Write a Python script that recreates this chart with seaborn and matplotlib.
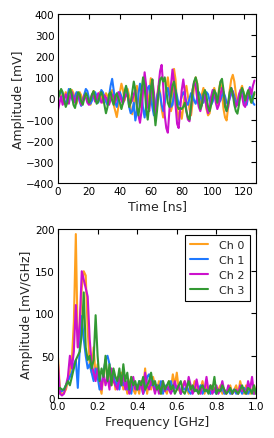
import numpy as np
import pandas as pd
import matplotlib
matplotlib.use("Agg")
import matplotlib.pyplot as plt
import seaborn as sns

channels = ["Ch 0", "Ch 1", "Ch 2", "Ch 3"]
colors = ["#FFA01E", "#1E78FF", "#CC11CC", "#339933"]

time_ns = list(range(128))

ch0_mv = [30, 35, 10, -20, 5, 30, 20, -10, 15, 40, 25, -5, -25, 10, 30, 15,
          -10, 5, 25, 20, -15, -30, 10, 35, 20, -5, 15, 30, 10, -20, 5, 25,
          10, -25, 20, 40, -30, -60, -88, -40, 30, 70, 40, -10, 20, 45, 10, -50,
          -75, -30, 40, 60, 20, -40, -20, 30, 65, 40, -30, 20, 96, 50, -60, -40,
          10, 60, 30, -50, -90, -20, 50, 100, 40, -60, -30, 140, 90, -40, -100, -60,
          -96, -40, 30, 60, 10, -50, -80, -20, 60, 100, 70, 0, -40, 20, 50, 10,
          -50, -80, -70, -20, 30, 50, 20, -30, 40, 77, 30, -50, -90, -104, -40, 40,
          90, 112, 80, 20, -30, 10, 40, 60, 20, -20, 10, 30, 0, -20, 10, 20]

ch1_mv = [10, 25, 40, 20, -10, -30, 5, 45, 30, 0, -20, 10, 30, 20, -15, -35,
          -10, 20, 45, 35, 0, -25, -10, 15, 30, 10, -20, 5, 40, 30, 5, -15,
          -30, 10, 60, 93, 40, -20, -40, 0, 30, 10, -20, 20, 55, 20, -40, -70,
          -60, -20, -104, -60, 20, 70, 30, -50, -90, -30, 50, 60, 10, -40, -80, -40,
          10, 40, 20, -30, -60, -20, 30, 50, 10, -40, -30, 20, 40, 10, -30, -20,
          10, 30, 15, -20, -30, 0, 25, 20, -10, -25, 5, 30, 15, -15, -20, 10,
          30, 20, -10, -30, -15, 10, 25, 5, -20, -10, 15, 30, 10, -20, -25, 0,
          20, 35, 10, -15, -30, -10, 20, 40, 15, -25, -30, 10, 54, 30, -20, -30]

ch2_mv = [-55, -20, 10, -30, -10, 20, 0, -25, 15, 30, 5, -20, 10, 25, -5, -30,
          -10, 15, 5, -20, -30, 0, 20, 10, -15, -5, 25, 10, -20, -10, 15, 5,
          -15, -30, -5, 20, 10, -20, 5, 30, 15, -10, -25, 0, 20, 10, -15, -20,
          -10, 20, 40, -30, -80, -115, -60, 40, 124, 60, -40, -60, 20, 90, 30, -70,
          -40, 60, 130, 159, 60, -80, -140, -162, -60, 60, 137, 80, -30, -120, -140, -50,
          40, 90, 30, -60, -100, -108, -40, 40, 80, 60, 0, -40, -60, -30, 20, 10,
          -40, -70, -50, 10, 40, 30, -20, -50, -30, 20, 50, 30, -20, -60, -40, 10,
          50, 30, -10, -40, -20, 20, 40, 10, -30, -40, -10, 30, 50, 20, 60, 85]

ch3_mv = [0, 20, 45, 30, -10, -40, -20, 25, 45, 15, -30, -45, -10, 30, 20, -15,
          -30, 0, 25, 10, -20, -10, 20, 35, 5, -25, -15, 15, 30, 10, -30, -70,
          -40, 20, 30, -10, -30, 10, 25, 0, -20, -50, -20, 30, 60, 20, -40, -20,
          30, 80, 40, -40, -80, -30, 40, 100, 60, -50, -100, -30, 50, 90, -40, -127,
          -60, 30, 90, 100, 80, 100, 40, -20, -40, 10, 60, 80, 40, -30, -50, -45,
          -50, -40, -20, -60, -90, -100, -40, 40, 80, 100, 70, 0, -50, -30, 20, 40,
          10, -40, -60, -30, 10, 40, 20, -20, 30, 80, 93, 40, -40, -60, -20, 30,
          50, 20, -30, -60, -72, -30, 20, 50, 30, -10, 20, 40, 10, -20, 0, 30]

freq_ghz = [round(i * 0.01, 2) for i in range(101)]

ch0_spec = [48, 8, 5, 6, 10, 20, 30, 45, 90, 194,
            60, 80, 130, 150, 145, 80, 40, 30, 60, 25,
            40, 15, 5, 30, 45, 20, 35, 15, 30, 10,
            25, 15, 30, 10, 20, 5, 15, 25, 10, 5,
            15, 5, 20, 10, 35, 5, 20, 10, 25, 15,
            10, 20, 5, 15, 10, 5, 20, 10, 28, 15,
            30, 10, 5, 15, 20, 10, 5, 15, 10, 20,
            15, 5, 10, 20, 5, 15, 10, 5, 15, 10,
            5, 10, 15, 5, 10, 5, 10, 15, 5, 10,
            15, 5, 20, 10, 5, 15, 10, 5, 10, 15,
            5]

ch1_spec = [15, 8, 8, 10, 15, 20, 25, 30, 40, 45,
            12, 60, 97, 70, 50, 35, 40, 30, 20, 35,
            25, 10, 15, 30, 45, 50, 40, 20, 30, 15,
            20, 10, 25, 15, 20, 10, 15, 5, 20, 15,
            10, 20, 15, 5, 10, 25, 28, 15, 20, 10,
            15, 10, 20, 5, 15, 10, 12, 20, 8, 15,
            10, 15, 5, 12, 10, 15, 8, 5, 10, 12,
            8, 10, 15, 5, 10, 8, 12, 5, 10, 8,
            5, 10, 8, 12, 5, 8, 10, 5, 8, 10,
            5, 8, 10, 5, 12, 8, 5, 10, 8, 5,
            10]

ch2_spec = [40, 5, 3, 5, 15, 25, 50, 35, 55, 110,
            60, 90, 150, 140, 130, 120, 70, 40, 30, 20,
            35, 25, 10, 30, 15, 25, 10, 35, 20, 15,
            10, 25, 15, 30, 10, 20, 5, 15, 25, 10,
            15, 10, 20, 5, 30, 15, 10, 20, 15, 5,
            15, 5, 10, 20, 8, 15, 10, 5, 12, 20,
            10, 15, 5, 12, 20, 10, 25, 15, 5, 10,
            22, 10, 5, 15, 10, 25, 8, 15, 5, 10,
            15, 5, 10, 20, 8, 5, 15, 10, 5, 8,
            10, 5, 15, 8, 10, 5, 20, 10, 25, 5,
            8]

ch3_spec = [10, 12, 10, 10, 15, 20, 15, 25, 35, 45,
            50, 55, 75, 125, 60, 45, 50, 35, 45, 98,
            50, 20, 35, 25, 50, 20, 40, 15, 35, 25,
            20, 35, 15, 40, 20, 30, 10, 25, 15, 20,
            10, 20, 15, 25, 10, 15, 20, 30, 15, 20,
            10, 15, 5, 20, 10, 15, 20, 10, 15, 5,
            10, 15, 20, 8, 5, 12, 20, 10, 15, 8,
            10, 5, 12, 15, 8, 10, 5, 15, 10, 25,
            5, 10, 8, 15, 10, 5, 8, 12, 5, 10,
            8, 5, 10, 15, 8, 5, 12, 10, 5, 15,
            5]

time_series = [ch0_mv, ch1_mv, ch2_mv, ch3_mv]
spectra = [ch0_spec, ch1_spec, ch2_spec, ch3_spec]

df_t = pd.concat([pd.DataFrame({"t": time_ns, "v": v, "ch": c})
                  for v, c in zip(time_series, channels)], ignore_index=True)
df_f = pd.concat([pd.DataFrame({"f": freq_ghz, "a": a, "ch": c})
                  for a, c in zip(spectra, channels)], ignore_index=True)

sns.set_style("white")
plt.rcParams.update({
    "font.family": ["DejaVu Sans"],
    "xtick.direction": "in", "ytick.direction": "in",
    "xtick.top": True, "ytick.right": True,
    "xtick.major.size": 3.5, "ytick.major.size": 3.5,
    "axes.edgecolor": "black", "axes.linewidth": 0.8,
    "xtick.color": "black", "ytick.color": "black",
})

fig = plt.figure(figsize=(2.74, 4.39), dpi=100)
ax1 = fig.add_axes([0.2117, 0.5809, 0.7226, 0.385])
ax2 = fig.add_axes([0.2117, 0.0911, 0.7226, 0.385])

pal = dict(zip(channels, colors))
sns.lineplot(data=df_t, x="t", y="v", hue="ch", palette=pal, ax=ax1,
             linewidth=1.5, legend=False, estimator=None, sort=False)
sns.lineplot(data=df_f, x="f", y="a", hue="ch", palette=pal, ax=ax2,
             linewidth=1.5, legend=False, estimator=None, sort=False)

ax1.set_xlim(0, 128)
ax1.set_ylim(-400, 400)
ax1.set_xticks(range(0, 121, 20))
ax1.set_yticks(range(-400, 401, 100))
ax1.set_xlabel("Time [ns]", fontsize=9, labelpad=2)
ax1.set_ylabel("Amplitude [mV]", fontsize=9, labelpad=1)

ax2.set_xlim(0, 1.0)
ax2.set_ylim(0, 200)
ax2.set_xticks([0, 0.2, 0.4, 0.6, 0.8, 1.0])
ax2.set_yticks(range(0, 201, 50))
ax2.set_xlabel("Frequency [GHz]", fontsize=9, labelpad=2.5)
ax2.set_ylabel("Amplitude [mV/GHz]", fontsize=9, labelpad=1)

for ax in (ax1, ax2):
    ax.tick_params(labelsize=7.5, pad=2.5, width=0.8)
    for s in ax.spines.values():
        s.set_visible(True)
        s.set_color("black")

handles = [plt.Line2D([], [], color=c, lw=1.5) for c in colors]
leg = ax2.legend(handles, channels, loc="upper right", fontsize=8,
                 frameon=True, fancybox=False, framealpha=1,
                 edgecolor="black", handlelength=1.6, handletextpad=1.0,
                 labelspacing=0.45, borderpad=0.5)
leg.get_frame().set_linewidth(0.8)

fig.savefig("out.png", dpi=100)
